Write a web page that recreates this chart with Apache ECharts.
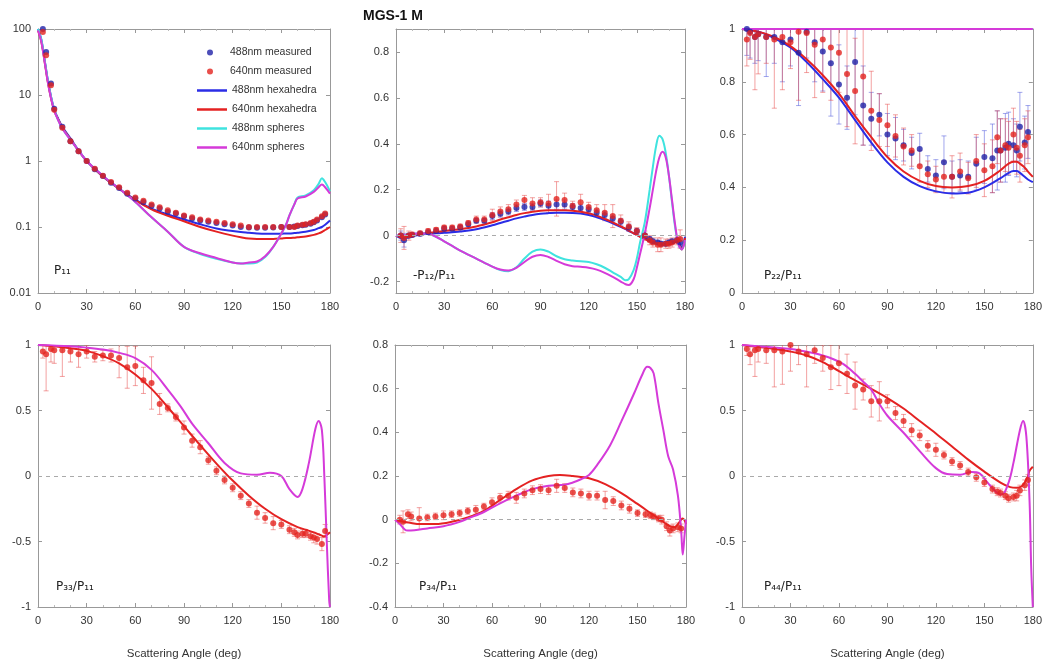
<!DOCTYPE html>
<html>
<head>
<meta charset="utf-8">
<script src="https://cdn.jsdelivr.net/npm/echarts@6/dist/echarts.min.js"></script>
<style>
  html, body { margin: 0; padding: 0; background: #fff; }
  #chart { width: 1045px; height: 665px; }
</style>
</head>
<body>
<div id="chart"></div>
<script>
// measured angles (deg), shared by all panels
const measAng = [3,5,8,10,15,20,25,30,35,40,45,50,55,60,65,70,75,80,85,90,95,100,105,110,115,120,125,130,135,140,145,150,155,158,160,163,165,168,170,172,175,177];

// P11
const p11M640 = [90,40,14,6,3.2,2.0,1.4,1.0,0.76,0.6,0.48,0.4,0.33,0.28,0.25,0.22,0.2,0.18,0.165,0.15,0.14,0.13,0.125,0.12,0.115,0.11,0.105,0.1,0.1,0.1,0.1,0.1,0.1,0.1,0.105,0.108,0.11,0.115,0.12,0.13,0.145,0.16];
const p11M488 = [100,45,15,6.2,3.3,2.0,1.4,1.0,0.75,0.59,0.47,0.39,0.32,0.27,0.24,0.21,0.19,0.17,0.16,0.145,0.135,0.125,0.12,0.115,0.11,0.105,0.1,0.098,0.097,0.097,0.098,0.1,0.1,0.102,0.104,0.106,0.108,0.112,0.118,0.125,0.14,0.155];
const p11Ang = [0,2,4,6,8,10,12,15,20,25,30,40,50,60,70,80,90,100,110,120,125,130,135,140,145,150,153,155,158,160,165,170,173,175,177,180];
const p11Hex488 = [100,70,35,17,9.5,6,4.6,3.3,2.2,1.45,1.0,0.58,0.38,0.26,0.19,0.155,0.13,0.11,0.095,0.087,0.084,0.082,0.08,0.079,0.079,0.079,0.08,0.08,0.081,0.082,0.085,0.09,0.096,0.1,0.108,0.125];
const p11Hex640 = [95,65,33,16,9,5.8,4.5,3.2,2.15,1.42,1.0,0.58,0.38,0.255,0.185,0.148,0.122,0.1,0.085,0.074,0.07,0.067,0.066,0.066,0.066,0.067,0.068,0.068,0.069,0.07,0.072,0.076,0.08,0.084,0.09,0.1];
const p11Sph488 = [100,70,35,17,9.5,6,4.4,3.1,2.1,1.45,1.0,0.6,0.38,0.24,0.14,0.085,0.05,0.039,0.033,0.029,0.028,0.028,0.029,0.035,0.05,0.08,0.11,0.15,0.22,0.28,0.3,0.36,0.45,0.55,0.48,0.35];
const p11Sph640 = [95,65,33,16,9,5.8,4.4,3.1,2.1,1.45,1.0,0.6,0.38,0.24,0.14,0.085,0.05,0.04,0.034,0.029,0.028,0.029,0.03,0.036,0.05,0.08,0.11,0.15,0.22,0.27,0.29,0.34,0.4,0.44,0.4,0.32];

// -P12/P11
const p12M640 = [0.0,-0.01,0.0,0.005,0.01,0.02,0.025,0.035,0.035,0.04,0.055,0.07,0.07,0.09,0.105,0.115,0.135,0.155,0.14,0.145,0.14,0.16,0.155,0.13,0.145,0.125,0.11,0.1,0.085,0.065,0.04,0.02,0.0,-0.02,-0.03,-0.04,-0.04,-0.035,-0.035,-0.03,-0.02,-0.015];
const p12E640 = [0.03,0.05,0.02,0.01,0.01,0.01,0.01,0.01,0.01,0.01,0.01,0.015,0.015,0.025,0.02,0.02,0.02,0.02,0.025,0.02,0.04,0.075,0.03,0.02,0.035,0.02,0.025,0.035,0.05,0.025,0.02,0.015,0.02,0.02,0.02,0.03,0.03,0.02,0.02,0.02,0.02,0.04];
const p12M488 = [0.0,-0.02,0.0,0.003,0.008,0.015,0.02,0.03,0.03,0.035,0.05,0.065,0.065,0.085,0.095,0.105,0.12,0.125,0.125,0.14,0.13,0.135,0.135,0.125,0.12,0.115,0.1,0.09,0.075,0.06,0.035,0.02,0.0,-0.015,-0.025,-0.03,-0.035,-0.035,-0.03,-0.025,-0.02,-0.03];
const p12E488 = [0.02,0.03,0.01,0.01,0.01,0.01,0.01,0.01,0.01,0.01,0.01,0.01,0.01,0.015,0.015,0.015,0.015,0.015,0.015,0.015,0.02,0.02,0.02,0.015,0.015,0.015,0.015,0.015,0.015,0.015,0.015,0.01,0.01,0.01,0.01,0.01,0.01,0.01,0.01,0.01,0.01,0.02];
const p12Ang = [0,3,6,10,15,20,25,30,35,40,50,60,65,70,75,80,85,90,95,100,105,110,115,120,125,130,135,140,143,145,148,150,152,155,158,160,162,164,166,168,170,172,174,176,178,180];
const p12Hex640 = [0,-0.005,-0.005,0.0,0.008,0.012,0.016,0.02,0.024,0.028,0.04,0.058,0.07,0.08,0.09,0.098,0.104,0.108,0.11,0.111,0.11,0.108,0.104,0.097,0.087,0.073,0.058,0.04,0.03,0.022,0.01,0.003,-0.005,-0.015,-0.025,-0.03,-0.035,-0.038,-0.04,-0.04,-0.038,-0.035,-0.03,-0.035,-0.06,-0.01];
const p12Hex488 = [0,-0.01,-0.01,-0.003,0.005,0.008,0.01,0.012,0.015,0.018,0.028,0.045,0.055,0.065,0.075,0.083,0.09,0.095,0.098,0.1,0.1,0.099,0.096,0.09,0.08,0.068,0.054,0.038,0.028,0.02,0.01,0.003,-0.004,-0.012,-0.02,-0.025,-0.03,-0.033,-0.035,-0.035,-0.034,-0.03,-0.026,-0.03,-0.05,-0.005];
const p12Sph640 = [0,0.0,0.003,0.007,0.01,0.008,-0.005,-0.025,-0.045,-0.065,-0.1,-0.135,-0.148,-0.152,-0.14,-0.115,-0.092,-0.084,-0.093,-0.11,-0.125,-0.133,-0.136,-0.14,-0.148,-0.162,-0.18,-0.2,-0.212,-0.215,-0.19,-0.14,-0.08,0.01,0.12,0.2,0.28,0.34,0.365,0.34,0.26,0.15,0.04,-0.04,-0.06,-0.02];
const p12Sph488 = [0,0.0,0.003,0.007,0.01,0.008,-0.005,-0.025,-0.045,-0.065,-0.1,-0.135,-0.15,-0.155,-0.138,-0.1,-0.07,-0.06,-0.07,-0.09,-0.103,-0.108,-0.112,-0.115,-0.125,-0.14,-0.16,-0.18,-0.195,-0.19,-0.15,-0.1,-0.03,0.06,0.2,0.3,0.39,0.435,0.42,0.36,0.26,0.14,0.03,-0.04,-0.06,-0.02];

// P22/P11
const p22M640 = [0.96,0.985,0.97,0.98,0.97,0.96,0.97,0.95,0.99,0.985,0.94,0.96,0.93,0.91,0.83,0.765,0.82,0.69,0.655,0.635,0.595,0.555,0.54,0.48,0.45,0.43,0.44,0.44,0.46,0.435,0.5,0.465,0.48,0.59,0.54,0.56,0.55,0.6,0.55,0.52,0.56,0.59];
const p22E640 = [0.1,0.1,0.2,0.15,0.1,0.26,0.2,0.1,0.26,0.15,0.2,0.2,0.2,0.15,0.2,0.2,0.26,0.15,0.1,0.08,0.08,0.07,0.06,0.06,0.05,0.05,0.06,0.08,0.07,0.06,0.1,0.1,0.1,0.1,0.12,0.1,0.1,0.1,0.1,0.1,0.1,0.1];
const p22M488 = [1.0,0.99,0.97,0.98,0.97,0.97,0.95,0.96,0.91,0.99,0.95,0.915,0.87,0.79,0.74,0.875,0.71,0.66,0.675,0.6,0.585,0.56,0.53,0.545,0.47,0.445,0.495,0.44,0.445,0.44,0.49,0.515,0.51,0.54,0.54,0.55,0.565,0.56,0.54,0.63,0.57,0.61];
const p22E488 = [0.1,0.1,0.1,0.1,0.15,0.1,0.15,0.1,0.2,0.1,0.15,0.15,0.2,0.15,0.12,0.2,0.15,0.1,0.08,0.08,0.08,0.06,0.06,0.06,0.05,0.06,0.1,0.06,0.06,0.06,0.1,0.1,0.13,0.15,0.12,0.13,0.12,0.1,0.1,0.13,0.1,0.1];
const p22Ang = [0,10,20,30,40,50,60,70,80,90,100,110,120,130,140,150,160,165,168,170,172,175,177,180];
const p22Hex640 = [1,0.99,0.97,0.935,0.885,0.825,0.755,0.67,0.59,0.515,0.46,0.425,0.405,0.4,0.405,0.425,0.465,0.49,0.497,0.497,0.49,0.475,0.46,0.44];
const p22Hex488 = [1,0.99,0.965,0.93,0.875,0.81,0.74,0.655,0.57,0.495,0.44,0.405,0.385,0.377,0.38,0.4,0.435,0.455,0.462,0.462,0.455,0.44,0.43,0.42];
const p22SphAng = [0,180];
const p22Sph = [1,1];

// P33/P11
const p33M640 = [0.95,0.93,0.97,0.96,0.96,0.95,0.93,0.95,0.91,0.92,0.92,0.9,0.83,0.84,0.73,0.71,0.55,0.52,0.45,0.37,0.27,0.22,0.12,0.04,-0.03,-0.09,-0.15,-0.21,-0.28,-0.32,-0.36,-0.37,-0.41,-0.43,-0.45,-0.44,-0.44,-0.46,-0.47,-0.48,-0.52,-0.42];
const p33E640 = [0.05,0.28,0.1,0.1,0.2,0.08,0.1,0.05,0.04,0.04,0.05,0.15,0.16,0.15,0.1,0.2,0.08,0.03,0.03,0.05,0.05,0.05,0.03,0.03,0.03,0.03,0.03,0.03,0.05,0.04,0.05,0.03,0.03,0.03,0.03,0.03,0.03,0.03,0.04,0.04,0.05,0.05];
const p33HexAng = [0,10,20,30,40,50,60,70,80,90,100,110,120,130,140,150,160,165,170,173,175,176,177,178,179,180];
const p33Hex = [1,0.99,0.975,0.955,0.915,0.86,0.775,0.665,0.525,0.38,0.235,0.095,-0.035,-0.15,-0.25,-0.33,-0.39,-0.41,-0.43,-0.445,-0.455,-0.46,-0.46,-0.45,-0.44,-0.43];
const p33SphAng = [0,20,30,40,50,60,70,80,88,95,105,115,125,135,143,150,155,160,163,167,171,173,175,176.5,178,179.5,180];
const p33Sph = [1,0.99,0.98,0.965,0.94,0.9,0.81,0.66,0.53,0.4,0.25,0.1,0.02,0.01,0.025,0.0,-0.1,-0.16,-0.1,0.1,0.36,0.42,0.35,0.0,-0.5,-0.95,-1.0];

// P34/P11
const p34M640 = [0.0,-0.01,0.025,0.015,0.005,0.01,0.015,0.02,0.025,0.03,0.04,0.045,0.06,0.08,0.1,0.11,0.1,0.12,0.135,0.14,0.135,0.155,0.145,0.125,0.12,0.11,0.11,0.09,0.085,0.065,0.05,0.03,0.025,0.02,0.015,0.005,0.0,-0.03,-0.05,-0.04,-0.035,-0.04];
const p34E640 = [0.02,0.05,0.02,0.02,0.05,0.015,0.015,0.02,0.015,0.015,0.015,0.02,0.015,0.02,0.02,0.02,0.025,0.02,0.02,0.02,0.02,0.03,0.02,0.02,0.02,0.02,0.02,0.04,0.02,0.02,0.02,0.015,0.015,0.015,0.015,0.015,0.02,0.02,0.025,0.02,0.02,0.02];
const p34HexAng = [0,5,10,15,25,35,45,55,65,75,85,95,102,110,120,130,140,150,160,165,170,173,175,177,178,180];
const p34Hex = [0,-0.01,-0.015,-0.02,-0.02,-0.01,0.01,0.04,0.09,0.14,0.18,0.2,0.205,0.2,0.19,0.163,0.122,0.072,0.02,-0.005,-0.03,-0.035,-0.02,0.0,0.005,-0.02];
const p34SphAng = [0,3,6,8,12,20,30,40,45,55,65,75,85,95,105,110,115,120,125,133,140,148,153,156,158,160,163,166,169,172,175,177,178,179,180];
const p34Sph = [0,-0.02,-0.045,-0.05,-0.048,-0.04,-0.03,-0.01,0.005,0.035,0.075,0.11,0.14,0.155,0.16,0.17,0.185,0.205,0.25,0.34,0.45,0.58,0.665,0.7,0.695,0.67,0.53,0.41,0.29,0.23,0.11,-0.05,-0.16,-0.08,0.0];

// P44/P11
const p44M640 = [0.97,0.93,0.96,0.97,0.96,0.96,0.95,1.0,0.95,0.93,0.96,0.9,0.83,0.86,0.78,0.69,0.66,0.57,0.57,0.57,0.48,0.42,0.35,0.31,0.23,0.2,0.16,0.11,0.08,0.03,-0.01,-0.05,-0.1,-0.12,-0.13,-0.15,-0.17,-0.16,-0.15,-0.11,-0.07,-0.03];
const p44E640 = [0.05,0.08,0.2,0.1,0.1,0.28,0.25,0.2,0.1,0.25,0.1,0.1,0.17,0.17,0.15,0.18,0.08,0.12,0.15,0.05,0.05,0.05,0.05,0.04,0.04,0.05,0.03,0.03,0.03,0.03,0.03,0.03,0.03,0.03,0.03,0.03,0.03,0.03,0.04,0.04,0.04,0.04];
const p44HexAng = [0,10,20,30,40,50,60,70,80,90,100,110,120,130,140,150,160,166,170,173,175,177,178,180];
const p44Hex = [1,0.985,0.97,0.95,0.92,0.87,0.8,0.73,0.665,0.595,0.515,0.42,0.325,0.225,0.125,0.033,-0.05,-0.085,-0.09,-0.08,-0.05,0.0,0.04,0.07];
const p44SphAng = [0,20,35,50,62,70,75,80,85,90,100,110,120,127,135,142,147,152,158,161,165,168,172,174,176,178,179,180];
const p44Sph = [1,0.98,0.96,0.92,0.86,0.78,0.72,0.66,0.55,0.46,0.33,0.19,0.06,0.015,0.01,0.03,0.02,-0.05,-0.13,-0.14,-0.05,0.1,0.35,0.42,0.3,-0.2,-0.7,-1.0];

const p12YTicks = [-0.2,0,0.2,0.4,0.6,0.8];

(function () {
    const chart = echarts.init(document.getElementById('chart'));

    const C = {
        blueDot: '#1f22a8', redDot: '#e4231e',
        blue: '#2b2de6', red: '#e42222',
        cyan: '#3fe3df', magenta: '#d53ad9',
        blueErr: 'rgba(70,80,220,0.5)', redErr: 'rgba(232,70,70,0.5)',
        axis: '#999', text: '#333'
    };
    const FONT = 'Liberation Sans';

    const grids = [
        { left: 38, top: 29, width: 292, height: 264 },
        { left: 396, top: 29, width: 289, height: 264 },
        { left: 742, top: 29, width: 292, height: 264 },
        { left: 38, top: 345, width: 292, height: 262 },
        { left: 395, top: 345, width: 291, height: 262 },
        { left: 742, top: 345, width: 292, height: 262 }
    ];

    const zip = (xs, ys) => xs.map((x, i) => [x, ys[i]]);
    const fmt = v => String(+(+v).toFixed(2));

    const yCfg = [
        { type: 'log', min: 0.01, max: 100 },
        { type: 'value', min: -0.25, max: 0.9, custom: p12YTicks },
        { type: 'value', min: 0, max: 1, interval: 0.2 },
        { type: 'value', min: -1, max: 1, interval: 0.5 },
        { type: 'value', min: -0.4, max: 0.8, interval: 0.2 },
        { type: 'value', min: -1, max: 1, interval: 0.5 }
    ];

    const line = { show: true, onZero: false, lineStyle: { color: C.axis } };
    const tick = { show: true, inside: true, length: 4, lineStyle: { color: C.axis } };
    const minor = { show: true, splitNumber: 3, length: 2, lineStyle: { color: '#bbb' } };

    const xAxis = [], yAxis = [];
    function yAxisFor(i, pos, labels) {
        const y = yCfg[i];
        const ya = {
            type: y.type, gridIndex: i, position: pos, min: y.min, max: y.max,
            axisLine: line, axisTick: Object.assign({}, tick),
            axisLabel: labels
                ? { fontFamily: FONT, fontSize: 11, color: C.text, margin: 7, formatter: fmt }
                : { show: false },
            splitLine: { show: false }
        };
        if (y.type === 'log') ya.logBase = 10;
        if (y.interval) ya.interval = y.interval;
        if (y.custom) {
            ya.axisTick.customValues = y.custom;
            if (labels) ya.axisLabel.customValues = y.custom;
        }
        return ya;
    }
    grids.forEach((g, i) => {
        xAxis.push({
            type: 'value', gridIndex: i, position: 'bottom', min: 0, max: 180, interval: 30,
            name: i >= 3 ? 'Scattering Angle (deg)' : '',
            nameLocation: 'middle', nameGap: 41,
            nameTextStyle: { fontFamily: FONT, fontSize: 11.5, color: C.text },
            axisLine: line, axisTick: tick, minorTick: minor,
            axisLabel: { fontFamily: FONT, fontSize: 11, color: C.text, margin: 8 },
            splitLine: { show: false }
        });
        yAxis.push(yAxisFor(i, 'left', true));
    });
    // mirrored frame axes (top / right) with inside ticks
    grids.forEach((g, i) => {
        xAxis.push({
            type: 'value', gridIndex: i, position: 'top', min: 0, max: 180, interval: 30,
            axisLine: line, axisTick: tick, minorTick: minor,
            axisLabel: { show: false }, splitLine: { show: false }
        });
        yAxis.push(yAxisFor(i, 'right', false));
    });

    const series = [];

    function errS(g, xs, ys, es, color) {
        series.push({
            type: 'custom', xAxisIndex: g, yAxisIndex: g, clip: true, silent: true, z: 1,
            data: xs.map((x, i) => [x, ys[i] - es[i], ys[i] + es[i]]),
            encode: { x: 0, y: [1, 2] },
            renderItem: function (params, api) {
                const x = api.value(0);
                const a = api.coord([x, api.value(1)]);
                const b = api.coord([x, api.value(2)]);
                const st = { stroke: color, lineWidth: 1 };
                return {
                    type: 'group', children: [
                        { type: 'line', shape: { x1: a[0], y1: a[1], x2: b[0], y2: b[1] }, style: st },
                        { type: 'line', shape: { x1: a[0] - 2.5, y1: a[1], x2: a[0] + 2.5, y2: a[1] }, style: st },
                        { type: 'line', shape: { x1: b[0] - 2.5, y1: b[1], x2: b[0] + 2.5, y2: b[1] }, style: st }
                    ]
                };
            }
        });
    }
    function lineS(name, g, xs, ys, color, zero) {
        const s = {
            name: name, type: 'line', xAxisIndex: g, yAxisIndex: g,
            data: zip(xs, ys), symbol: 'none', smooth: 0.35, z: 3,
            lineStyle: { color: color, width: 2 }, itemStyle: { color: color }
        };
        if (zero) {
            s.markLine = {
                silent: true, symbol: 'none', label: { show: false },
                lineStyle: { color: '#aaa', type: [4, 4], width: 1 },
                data: [{ yAxis: 0 }]
            };
        }
        series.push(s);
    }
    function ptS(name, g, ys, color) {
        series.push({
            name: name, type: 'scatter', xAxisIndex: g, yAxisIndex: g,
            data: zip(measAng, ys), symbol: 'circle', symbolSize: 6, z: 4,
            itemStyle: { color: color }
        });
    }

    // panel 1: P11
    lineS('488nm hexahedra', 0, p11Ang, p11Hex488, C.blue);
    lineS('640nm hexahedra', 0, p11Ang, p11Hex640, C.red);
    lineS('488nm spheres', 0, p11Ang, p11Sph488, C.cyan);
    lineS('640nm spheres', 0, p11Ang, p11Sph640, C.magenta);
    ptS('488nm measured', 0, p11M488, C.blueDot);
    ptS('640nm measured', 0, p11M640, C.redDot);

    // panel 2: -P12/P11
    errS(1, measAng, p12M488, p12E488, C.blueErr);
    errS(1, measAng, p12M640, p12E640, C.redErr);
    lineS('488nm hexahedra', 1, p12Ang, p12Hex488, C.blue, true);
    lineS('640nm hexahedra', 1, p12Ang, p12Hex640, C.red);
    lineS('488nm spheres', 1, p12Ang, p12Sph488, C.cyan);
    lineS('640nm spheres', 1, p12Ang, p12Sph640, C.magenta);
    ptS('488nm measured', 1, p12M488, C.blueDot);
    ptS('640nm measured', 1, p12M640, C.redDot);

    // panel 3: P22/P11
    errS(2, measAng, p22M488, p22E488, C.blueErr);
    errS(2, measAng, p22M640, p22E640, C.redErr);
    ptS('488nm measured', 2, p22M488, C.blueDot);
    ptS('640nm measured', 2, p22M640, C.redDot);
    lineS('488nm hexahedra', 2, p22Ang, p22Hex488, C.blue);
    lineS('640nm hexahedra', 2, p22Ang, p22Hex640, C.red);
    lineS('488nm spheres', 2, p22SphAng, p22Sph, C.cyan);
    lineS('640nm spheres', 2, p22SphAng, p22Sph, C.magenta);

    // panel 4: P33/P11
    errS(3, measAng, p33M640, p33E640, C.redErr);
    lineS('640nm hexahedra', 3, p33HexAng, p33Hex, C.red, true);
    lineS('640nm spheres', 3, p33SphAng, p33Sph, C.magenta);
    ptS('640nm measured', 3, p33M640, C.redDot);

    // panel 5: P34/P11
    errS(4, measAng, p34M640, p34E640, C.redErr);
    lineS('640nm hexahedra', 4, p34HexAng, p34Hex, C.red, true);
    lineS('640nm spheres', 4, p34SphAng, p34Sph, C.magenta);
    ptS('640nm measured', 4, p34M640, C.redDot);

    // panel 6: P44/P11
    errS(5, measAng, p44M640, p44E640, C.redErr);
    lineS('640nm hexahedra', 5, p44HexAng, p44Hex, C.red, true);
    lineS('640nm spheres', 5, p44SphAng, p44Sph, C.magenta);
    ptS('640nm measured', 5, p44M640, C.redDot);

    const legendText = { fontFamily: FONT, fontSize: 10.5, color: C.text };
    const panelLabel = (x, y, t) => ({
        type: 'text', left: x, top: y,
        style: { text: t, fontFamily: 'DejaVu Sans', fontSize: 12, fill: '#222' }
    });

    chart.setOption({
        animation: false,
        backgroundColor: '#fff',
        title: {
            text: 'MGS-1 M', left: 358, top: 4,
            textStyle: { fontFamily: FONT, fontSize: 14, fontWeight: 'bold', color: '#111' }
        },
        legend: [
            {
                orient: 'vertical', left: 207, top: 47, padding: 0,
                itemWidth: 30, itemHeight: 6, itemGap: 8,
                selectedMode: false, textStyle: legendText,
                data: [{ name: '488nm measured', icon: 'circle' }, { name: '640nm measured', icon: 'circle' }]
            },
            {
                orient: 'vertical', left: 197, top: 85, padding: 0,
                itemWidth: 30, itemHeight: 2.5, itemGap: 8,
                selectedMode: false, textStyle: legendText,
                data: ['488nm hexahedra', '640nm hexahedra', '488nm spheres', '640nm spheres']
                    .map(n => ({ name: n, icon: 'rect' }))
            }
        ],
        grid: grids.map(g => Object.assign({ show: false }, g)),
        xAxis: xAxis,
        yAxis: yAxis,
        series: series,
        graphic: [
            panelLabel(54, 265, 'P₁₁'),
            panelLabel(413, 270, '-P₁₂/P₁₁'),
            panelLabel(764, 270, 'P₂₂/P₁₁'),
            panelLabel(56, 581, 'P₃₃/P₁₁'),
            panelLabel(419, 581, 'P₃₄/P₁₁'),
            panelLabel(764, 581, 'P₄₄/P₁₁')
        ]
    });

    window.onresize = () => chart.resize();
})();
</script>
</body>
</html>
